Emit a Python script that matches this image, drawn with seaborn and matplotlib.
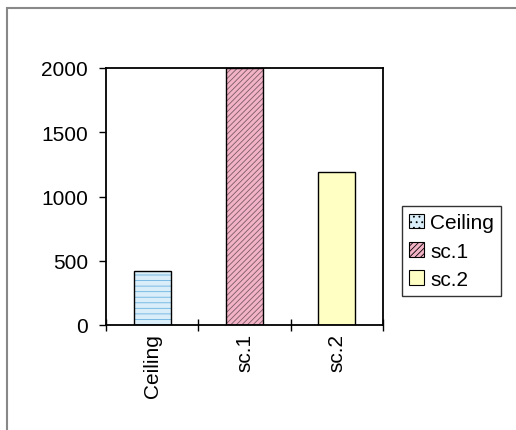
import matplotlib
matplotlib.use("Agg")
import matplotlib.pyplot as plt
import seaborn as sns
import pandas as pd
from matplotlib.patches import Rectangle, Patch

categories = ["Ceiling", "sc.1", "sc.2"]
values = [420, 2000, 1190]
y_ticks = [0, 500, 1000, 1500, 2000]

fills = ["#d9eef8", "#f3b3c6", "#ffffc4"]
hatches = ["---", "//////", ""]
hatch_colors = ["#6ab2e0", "#7a5a66", "#000000"]

sns.set_theme(style="white")
plt.rcParams['font.family'] = ['Liberation Sans', 'DejaVu Sans']
plt.rcParams['hatch.linewidth'] = 0.6
plt.rcParams['text.color'] = 'black'
plt.rcParams['xtick.color'] = 'black'
plt.rcParams['ytick.color'] = 'black'

fig = plt.figure(figsize=(5.16, 4.31), dpi=100)
fig.patch.set_facecolor("white")
ax = fig.add_axes([106/516, 105/431, 277/516, 257/431])

df = pd.DataFrame({"cat": categories, "val": values})
sns.barplot(data=df, x="cat", y="val", hue="cat", palette=fills, width=0.4,
            dodge=False, legend=False, ax=ax, saturation=1)

for p, fc, h, hc in zip(ax.patches, fills, hatches, hatch_colors):
    p.set_facecolor(fc)
    p.set_hatch(h)
    p.set_edgecolor(hc)
    p.set_linewidth(0)
    r = Rectangle((p.get_x(), p.get_y()), p.get_width(), p.get_height(),
                  fill=False, edgecolor="black", linewidth=1.0, zorder=3)
    ax.add_patch(r)

ax.set_xlim(-0.5, 2.5)
ax.set_ylim(0, 2000)
ax.set_yticks(y_ticks)
ax.set_yticklabels([str(v) for v in y_ticks], fontsize=15, color="black")
ax.set_xticks([0, 1, 2])
ax.set_xticklabels(categories, rotation=90, fontsize=15, color="black")
ax.tick_params(axis="x", length=0, pad=6)
ax.tick_params(axis="y", direction="out", length=5, width=1, color="black", left=True, pad=8)
ax.set_xticks([-0.5, 0.5, 1.5, 2.5], minor=True)
ax.tick_params(axis="x", which="minor", direction="inout", length=9, width=1,
               color="black", bottom=True)
ax.set_xlabel("")
ax.set_ylabel("")
for s in ax.spines.values():
    s.set_color("black")
    s.set_linewidth(1.3)
ax.grid(False)

handles = [Patch(facecolor=fc, edgecolor="black", hatch=h, linewidth=0.8)
           for fc, h in zip(fills, ["...", "//////", ""])]
leg = fig.legend(handles, categories, loc="upper left",
                 bbox_to_anchor=(402/516, 1 - 207/431), fontsize=15,
                 frameon=True, fancybox=False, edgecolor="black",
                 handlelength=0.7, handleheight=0.7, handletextpad=0.3,
                 borderpad=0.35, labelspacing=0.45, borderaxespad=0)
leg.get_frame().set_linewidth(1.0)
for t in leg.get_texts():
    t.set_color("black")

fig.add_artist(Rectangle((7/516, -0.1), 1.2, 1 - 9/431 + 0.1,
                         transform=fig.transFigure, fill=False,
                         edgecolor="#888888", linewidth=1.5))

fig.savefig("out.png", dpi=100, facecolor="white")
